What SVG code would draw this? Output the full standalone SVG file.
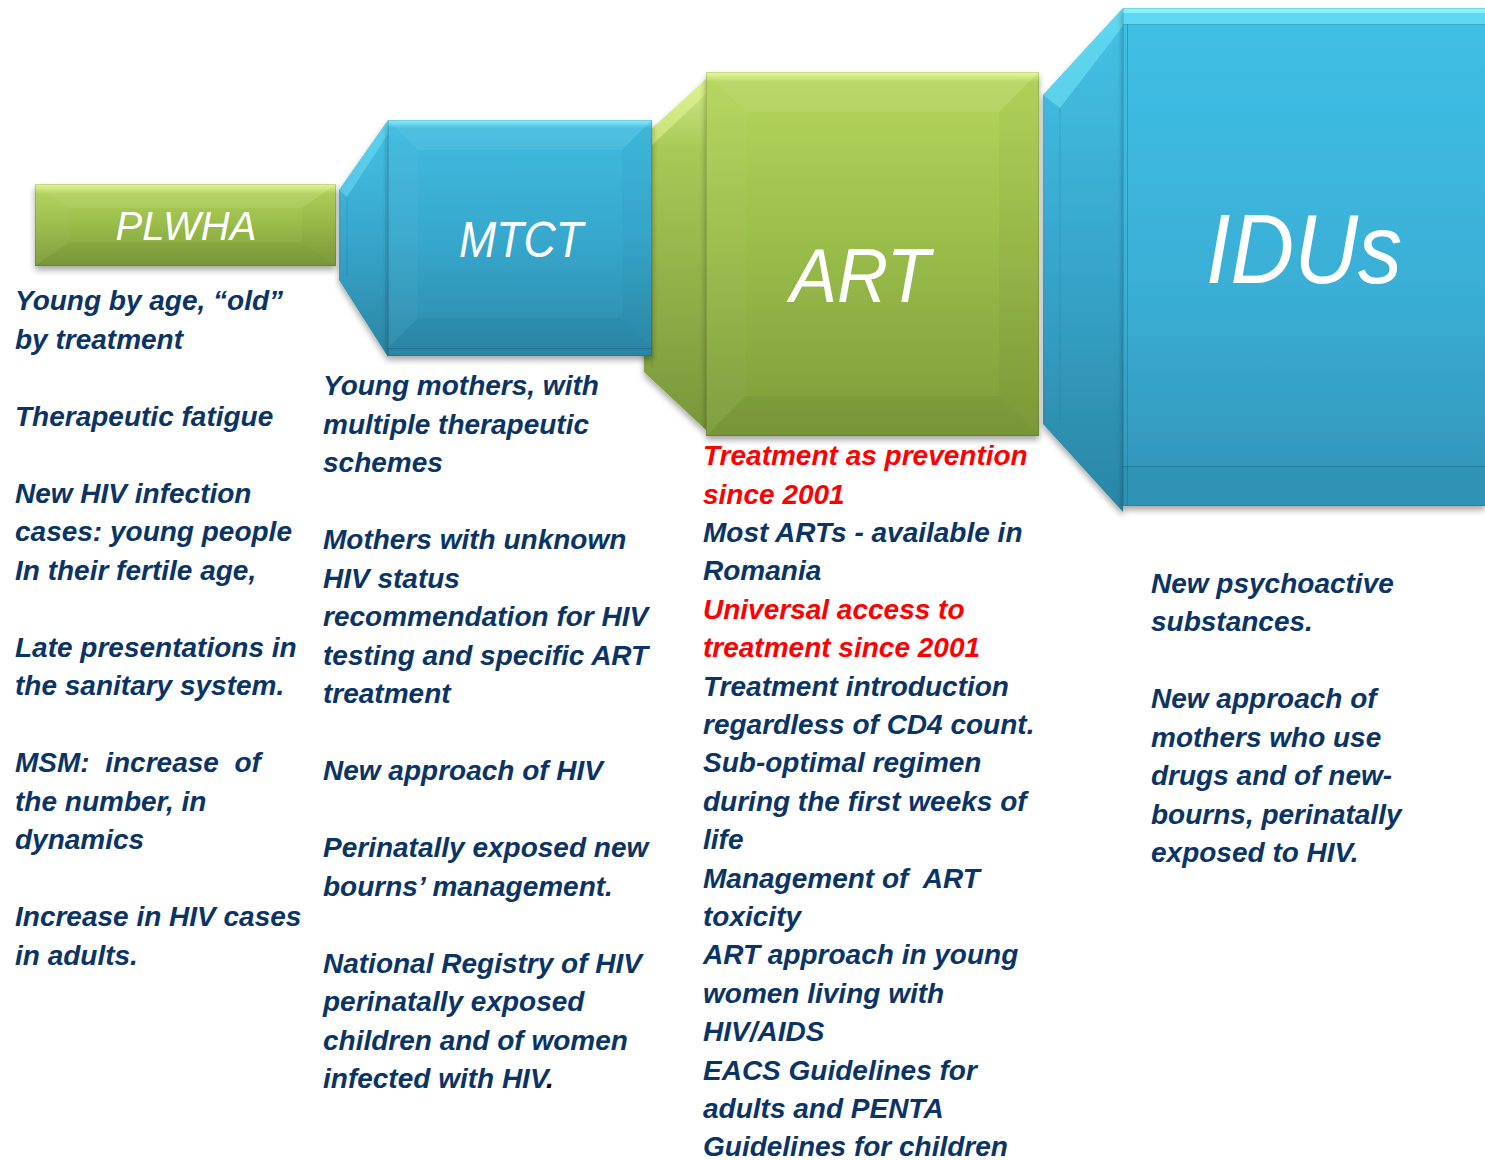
<svg xmlns="http://www.w3.org/2000/svg" width="1485" height="1160" viewBox="0 0 1485 1160">
<defs>
<linearGradient id="gGreen" x1="0" y1="0" x2="0" y2="1">
<stop offset="0" stop-color="#b6d65e"/>
<stop offset="0.45" stop-color="#9cbe4b"/>
<stop offset="1" stop-color="#7c9c3a"/>
</linearGradient>
<linearGradient id="gBlue" x1="0" y1="0" x2="0" y2="1">
<stop offset="0" stop-color="#40bce0"/>
<stop offset="0.5" stop-color="#37a8cd"/>
<stop offset="1" stop-color="#2c89a8"/>
</linearGradient>
<linearGradient id="gBlueIdu" x1="0" y1="0" x2="0" y2="1">
<stop offset="0" stop-color="#40c0e6"/>
<stop offset="0.55" stop-color="#3aafd6"/>
<stop offset="1" stop-color="#3193b6"/>
</linearGradient>
<linearGradient id="gTrapBlue" x1="0" y1="0" x2="0" y2="1">
<stop offset="0" stop-color="#45c3e6"/>
<stop offset="0.5" stop-color="#37a6cb"/>
<stop offset="1" stop-color="#2a85a4"/>
</linearGradient>
<linearGradient id="gTrapGreen" x1="0" y1="0" x2="0" y2="1">
<stop offset="0" stop-color="#cfe88a"/>
<stop offset="0.2" stop-color="#a8c957"/>
<stop offset="1" stop-color="#78973a"/>
</linearGradient>
<linearGradient id="gTopHiG" x1="0" y1="0" x2="0" y2="1">
<stop offset="0" stop-color="#eefc9a"/>
<stop offset="1" stop-color="#eefc9a" stop-opacity="0"/>
</linearGradient>
<linearGradient id="gTopHiB" x1="0" y1="0" x2="0" y2="1">
<stop offset="0" stop-color="#86f4ff"/>
<stop offset="1" stop-color="#86f4ff" stop-opacity="0"/>
</linearGradient>
<filter id="shadow" x="-10%" y="-10%" width="120%" height="125%">
<feDropShadow dx="0" dy="4" stdDeviation="3" flood-color="#000" flood-opacity="0.35"/>
</filter>
<style>
.title{font-family:"Liberation Sans",Arial,sans-serif;font-style:italic;fill:#ffffff;text-anchor:middle}
.body{font-family:"Liberation Sans",Arial,sans-serif;font-style:italic;font-weight:bold;font-size:28px;fill:#0b3466}
.red{fill:#ff0000}
.fHi{fill:#ffffff;fill-opacity:0.08}
.fLo{fill:#000000;fill-opacity:0.04}
.fSide{fill:#ffffff;fill-opacity:0.03}
.fSideR{fill:#000000;fill-opacity:0.025}
.edge{fill:none;stroke:#000;stroke-opacity:0.12;stroke-width:1}
</style>
</defs>
<rect width="1485" height="1160" fill="#ffffff"/>

<g id="connectors">
<g id="conn-mtct">
<polygon points="339,190 388,120 388,357 339,280" fill="url(#gTrapBlue)" filter="url(#shadow)"/>
<polygon points="339,190 388,120 388,134 347,197" fill="#7fe8fb" fill-opacity="0.4"/>
<line x1="347" y1="197" x2="347" y2="276" stroke="#1d6f8c" stroke-opacity="0.25"/>
</g>
<g id="conn-art">
<polygon points="644,136 706,79 706,430 644,372" fill="url(#gTrapGreen)" filter="url(#shadow)"/>
<polygon points="644,136 706,79 706,94 652,145" fill="#eefc9a" fill-opacity="0.45"/>
<line x1="652" y1="145" x2="652" y2="368" stroke="#4f6b20" stroke-opacity="0.2"/>
</g>
<g id="conn-idus">
<polygon points="1043,95 1123,8 1123,512 1043,424" fill="url(#gTrapBlue)" filter="url(#shadow)"/>
<polygon points="1043,95 1123,8 1123,26 1060,108" fill="#86f4ff" fill-opacity="0.4"/>
<line x1="1060" y1="108" x2="1060" y2="420" stroke="#1d6f8c" stroke-opacity="0.25"/>
</g>
</g>

<g id="node-plwha">
<rect x="35" y="184" width="301" height="82" fill="url(#gGreen)" filter="url(#shadow)"/>
<rect x="35" y="184" width="301" height="10" fill="url(#gTopHiG)" fill-opacity="0.8"/>
<polygon class="fHi" points="35,184 336,184 302,208 69,208"/>
<polygon class="fLo" points="35,266 336,266 302,242 69,242"/>
<polygon class="fSide" points="35,184 69,208 69,242 35,266"/>
<polygon class="fSideR" points="336,184 302,208 302,242 336,266"/>
<rect class="edge" x="35.5" y="184.5" width="300" height="81"/>
<text class="title" x="186" y="240" font-size="40">PLWHA</text>
</g>

<g id="node-mtct">
<rect x="388" y="120" width="264" height="236" fill="url(#gBlue)" filter="url(#shadow)"/>
<rect x="388" y="120" width="264" height="8" fill="url(#gTopHiB)" fill-opacity="0.9"/>
<polygon class="fHi" points="388,120 652,120 622,150 418,150"/>
<polygon class="fLo" points="388,348 652,348 622,318 418,318"/>
<polygon class="fSide" points="388,120 418,150 418,318 388,348"/>
<polygon class="fSideR" points="652,120 622,150 622,318 652,348"/>
<rect x="388" y="348" width="264" height="8" fill="#2a86a6"/>
<line x1="388" y1="348.5" x2="652" y2="348.5" stroke="#1f6985" stroke-opacity="0.6"/>
<rect class="edge" x="388.5" y="120.5" width="263" height="235"/>
<text class="title" x="521" y="257" font-size="50" textLength="124" lengthAdjust="spacingAndGlyphs">MTCT</text>
</g>

<g id="node-art">
<rect x="706" y="72" width="333" height="364" fill="url(#gGreen)" filter="url(#shadow)"/>
<rect x="706" y="72" width="333" height="10" fill="url(#gTopHiG)" fill-opacity="0.9"/>
<polygon class="fHi" points="706,72 1039,72 999,112 746,112"/>
<polygon class="fLo" points="706,436 1039,436 999,396 746,396"/>
<polygon class="fSide" points="706,72 746,112 746,396 706,436"/>
<polygon class="fSideR" points="1039,72 999,112 999,396 1039,436"/>
<rect class="edge" x="706.5" y="72.5" width="332" height="363"/>
<text class="title" x="860" y="302" font-size="76" textLength="140" lengthAdjust="spacingAndGlyphs">ART</text>
</g>

<g id="node-idus">
<rect x="1123" y="8" width="362" height="498" fill="url(#gBlueIdu)" filter="url(#shadow)"/>
<rect x="1123" y="8" width="362" height="17" fill="#5fd8f4"/>
<rect x="1123" y="8" width="362" height="5" fill="#86f4ff"/>
<line x1="1123" y1="24.5" x2="1485" y2="24.5" stroke="#2a8fb0" stroke-opacity="0.6"/>
<rect x="1123" y="466" width="362" height="40" fill="#2f93b6"/>
<line x1="1123" y1="466.5" x2="1485" y2="466.5" stroke="#1f6985" stroke-opacity="0.55"/>
<line x1="1127.5" y1="24" x2="1127.5" y2="505" stroke="#1f6985" stroke-opacity="0.4"/>
<rect class="edge" x="1123.5" y="8.5" width="362" height="497"/>
<text class="title" x="1304" y="283" font-size="98" textLength="196" lengthAdjust="spacingAndGlyphs">IDUs</text>
</g>

<g id="text-plwha">
<text class="body" x="15" y="310">Young by age, “old”</text>
<text class="body" x="15" y="348.5">by treatment</text>
<text class="body" x="15" y="425.5">Therapeutic fatigue</text>
<text class="body" x="15" y="502.5">New HIV infection</text>
<text class="body" x="15" y="541">cases: young people</text>
<text class="body" x="15" y="579.5">In their fertile age,</text>
<text class="body" x="15" y="656.5">Late presentations in</text>
<text class="body" x="15" y="695">the sanitary system.</text>
<text class="body" x="15" y="772" xml:space="preserve">MSM:  increase  of</text>
<text class="body" x="15" y="810.5">the number, in</text>
<text class="body" x="15" y="849">dynamics</text>
<text class="body" x="15" y="926">Increase in HIV cases</text>
<text class="body" x="15" y="964.5">in adults.</text>
</g>

<g id="text-mtct">
<text class="body" x="323" y="395">Young mothers, with</text>
<text class="body" x="323" y="433.5">multiple therapeutic</text>
<text class="body" x="323" y="472">schemes</text>
<text class="body" x="323" y="549">Mothers with unknown</text>
<text class="body" x="323" y="587.5">HIV status</text>
<text class="body" x="323" y="626">recommendation for HIV</text>
<text class="body" x="323" y="664.5">testing and specific ART</text>
<text class="body" x="323" y="703">treatment</text>
<text class="body" x="323" y="780">New approach of HIV</text>
<text class="body" x="323" y="857">Perinatally exposed new</text>
<text class="body" x="323" y="895.5">bourns’ management.</text>
<text class="body" x="323" y="972.5">National Registry of HIV</text>
<text class="body" x="323" y="1011">perinatally exposed</text>
<text class="body" x="323" y="1049.5">children and of women</text>
<text class="body" x="323" y="1088">infected with HIV<tspan fill="#000000">.</tspan></text>
</g>

<g id="text-art">
<text class="body red" x="703" y="465">Treatment as prevention</text>
<text class="body red" x="703" y="503.5">since 2001</text>
<text class="body" x="703" y="542">Most ARTs - available in</text>
<text class="body" x="703" y="580">Romania</text>
<text class="body red" x="703" y="619">Universal access to</text>
<text class="body red" x="703" y="657">treatment since 2001</text>
<text class="body" x="703" y="695.5">Treatment introduction</text>
<text class="body" x="703" y="734">regardless of CD4 count.</text>
<text class="body" x="703" y="772">Sub-optimal regimen</text>
<text class="body" x="703" y="811">during the first weeks of</text>
<text class="body" x="703" y="849">life</text>
<text class="body" x="703" y="887.5" xml:space="preserve">Management of  ART</text>
<text class="body" x="703" y="926">toxicity</text>
<text class="body" x="703" y="964">ART approach in young</text>
<text class="body" x="703" y="1003">women living with</text>
<text class="body" x="703" y="1041">HIV/AIDS</text>
<text class="body" x="703" y="1079.5">EACS Guidelines for</text>
<text class="body" x="703" y="1118">adults and PENTA</text>
<text class="body" x="703" y="1156">Guidelines for children</text>
</g>

<g id="text-idus">
<text class="body" x="1151" y="593">New psychoactive</text>
<text class="body" x="1151" y="631">substances.</text>
<text class="body" x="1151" y="708">New approach of</text>
<text class="body" x="1151" y="747">mothers who use</text>
<text class="body" x="1151" y="785">drugs and of new-</text>
<text class="body" x="1151" y="823.5">bourns, perinatally</text>
<text class="body" x="1151" y="862">exposed to HIV.</text>
</g>
</svg>
